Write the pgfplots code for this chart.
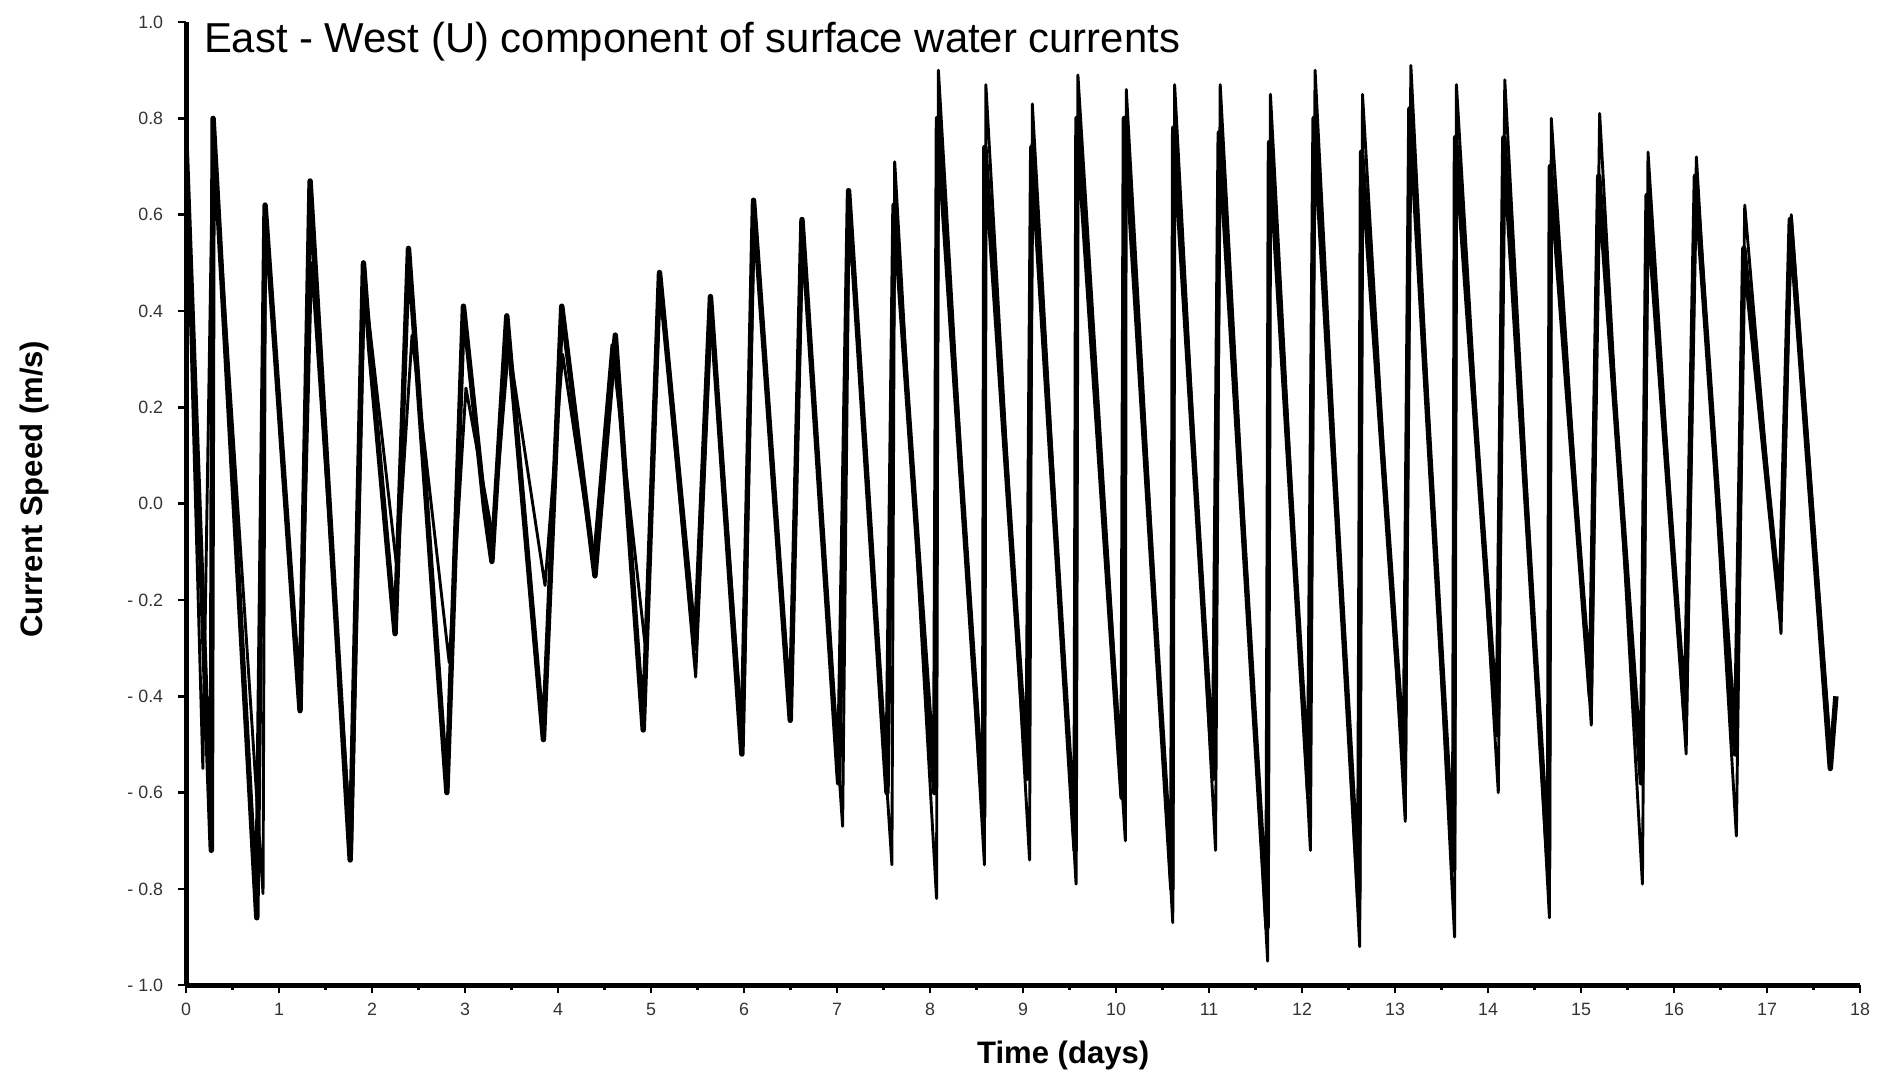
\documentclass[border=0pt]{standalone}
\usepackage{pgfplots}
\pgfplotsset{compat=1.18}
\usepackage{fontspec}
\setmainfont{Liberation Sans}
\begin{document}
\begin{tikzpicture}
\useasboundingbox (-1.578,-0.747) rectangle (14.42,8.357);
\begin{axis}[
    scale only axis,
    width=14.20cm, height=8.17cm,
    xmin=0, xmax=18, ymin=-1, ymax=1,
    axis x line*=bottom, axis y line*=left,
    axis line style={line width=1.2pt},
    xtick={0,1,...,18},
    minor x tick num=1,
    ytick={-1,-0.8,-0.6,-0.4,-0.2,0,0.2,0.4,0.6,0.8,1},
    yticklabels={- 1.0,- 0.8,- 0.6,- 0.4,- 0.2,0.0,0.2,0.4,0.6,0.8,1.0},
    tick align=outside,
    major tick length=0.07cm, minor tick length=0.04cm,
    tick style={black, line width=0.6pt},
    ticklabel style={font=\fontsize{4.3}{5}\selectfont, text=black!80},
    /pgf/number format/assume math mode=true,
    yticklabel style={xshift=0cm},
    xticklabel style={yshift=0.04cm},
    xlabel={Time (days)},
    ylabel={Current Speed (m/s)},
    label style={font=\fontsize{7.5}{9}\selectfont\bfseries},
    xlabel style={at={(axis description cs:0.524,-0.081)}, anchor=base},
    ylabel style={at={(axis description cs:-0.0908,0.515)}, anchor=center},
    title={East - West (U) component of surface water currents},
    title style={at={(axis description cs:0.002,0.943)}, anchor=base west,
        font=\fontsize{10.1}{12}\selectfont},
    clip=true,
]
% thick trace
\addplot[black, line width=1.3pt, line join=round] coordinates {
(0,0.75) (0.272,-0.72) (0.291,0.80) (0.761,-0.86) (0.850,0.62) (1.226,-0.43)
(1.334,0.67) (1.765,-0.74) (1.908,0.50) (1.98,0.31) (2.248,-0.27) (2.392,0.53)
(2.805,-0.60) (2.983,0.41) (3.21,-0.01) (3.289,-0.12) (3.449,0.39) (3.843,-0.49)
(4.040,0.41) (4.397,-0.15) (4.616,0.35) (4.916,-0.47) (5.091,0.48) (5.475,-0.30)
(5.639,0.43) (5.977,-0.52) (6.102,0.63) (6.497,-0.45) (6.623,0.59) (7.017,-0.58)
(7.124,0.65) (7.537,-0.60) (7.613,0.62) (8.05,-0.60) (8.08,0.80) (8.576,-0.65)
(8.59,0.74) (9.043,-0.57) (9.094,0.74) (9.56,-0.72) (9.58,0.80) (10.065,-0.61)
(10.09,0.80) (10.60,-0.80) (10.62,0.78) (11.048,-0.57) (11.11,0.77) (11.624,-0.88)
(11.65,0.75) (12.07,-0.60) (12.13,0.80) (12.61,-0.82) (12.64,0.73) (13.10,-0.55)
(13.16,0.82) (13.63,-0.76) (13.65,0.76) (14.10,-0.48) (14.17,0.76) (14.65,-0.76)
(14.67,0.70) (15.10,-0.40) (15.19,0.68) (15.65,-0.58) (15.71,0.64) (16.12,-0.45)
(16.23,0.68) (16.66,-0.52) (16.75,0.53) (17.14,-0.22) (17.25,0.59) (17.68,-0.55)
(17.74,-0.40)
};
% thin trace
\addplot[black, line width=0.7pt, line join=round] coordinates {
(0,0.72) (0.181,-0.55) (0.29,0.78) (0.828,-0.81) (0.855,0.61) (1.23,-0.42)
(1.35,0.50) (1.78,-0.72) (1.92,0.46) (2.27,-0.14) (2.43,0.35) (2.83,-0.33)
(3.01,0.24) (3.30,-0.07) (3.47,0.33) (3.86,-0.17) (4.05,0.31) (4.38,-0.12)
(4.58,0.33) (4.94,-0.30) (5.10,0.46) (5.48,-0.36) (5.65,0.40) (5.99,-0.50)
(6.11,0.60) (6.50,-0.43) (6.63,0.55) (7.06,-0.67) (7.13,0.62) (7.59,-0.75)
(7.62,0.71) (8.07,-0.82) (8.09,0.90) (8.585,-0.75) (8.60,0.87) (9.07,-0.74)
(9.10,0.83) (9.57,-0.79) (9.59,0.89) (10.10,-0.70) (10.11,0.86) (10.61,-0.87)
(10.63,0.87) (11.07,-0.72) (11.12,0.87) (11.63,-0.95) (11.66,0.85) (12.09,-0.72)
(12.14,0.90) (12.62,-0.92) (12.65,0.85) (13.11,-0.66) (13.17,0.91) (13.64,-0.90)
(13.66,0.87) (14.11,-0.60) (14.18,0.88) (14.66,-0.86) (14.68,0.80) (15.11,-0.46)
(15.20,0.81) (15.66,-0.79) (15.72,0.73) (16.13,-0.52) (16.24,0.72) (16.67,-0.69)
(16.76,0.62) (17.15,-0.27) (17.26,0.60) (17.69,-0.53) (17.74,-0.42)
};
\end{axis}
\end{tikzpicture}
\end{document}
